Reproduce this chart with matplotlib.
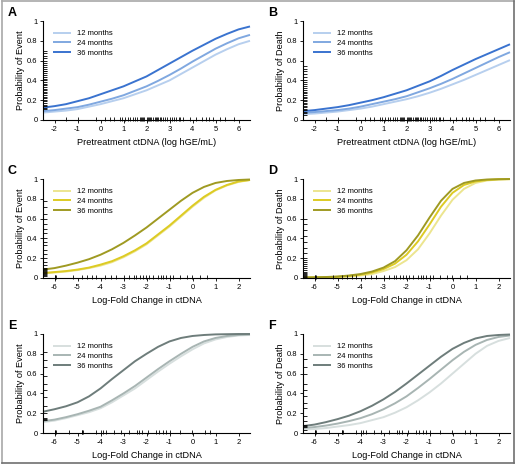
import numpy as np
import matplotlib.pyplot as plt
from matplotlib.lines import Line2D

months = ['12 months', '24 months', '36 months']

# x grids the curves were read at
x_pre = [-2.5, -2, -1.5, -1, -0.5, 0, 0.5, 1, 1.5, 2, 2.5, 3, 3.5, 4, 4.5, 5, 5.5, 6, 6.5]
x_lfc = [-6.5, -6, -5.5, -5, -4.5, -4, -3.5, -3, -2.5, -2, -1.5, -1, -0.5, 0, 0.5, 1, 1.5, 2, 2.5]

# A: probability of event vs pretreatment ctDNA
a_12 = [0.075, 0.085, 0.095, 0.11, 0.135, 0.16, 0.19, 0.22, 0.26, 0.30, 0.35, 0.40, 0.465, 0.53, 0.595, 0.66, 0.715, 0.765, 0.80]
a_24 = [0.09, 0.10, 0.115, 0.13, 0.155, 0.185, 0.215, 0.25, 0.295, 0.34, 0.395, 0.455, 0.52, 0.59, 0.655, 0.72, 0.775, 0.825, 0.86]
a_36 = [0.125, 0.14, 0.16, 0.19, 0.22, 0.26, 0.30, 0.34, 0.39, 0.44, 0.505, 0.57, 0.635, 0.70, 0.76, 0.82, 0.87, 0.915, 0.945]

# B: probability of death vs pretreatment ctDNA
b_12 = [0.06, 0.065, 0.075, 0.085, 0.10, 0.115, 0.135, 0.16, 0.185, 0.21, 0.24, 0.275, 0.315, 0.36, 0.405, 0.455, 0.505, 0.555, 0.605]
b_24 = [0.075, 0.08, 0.09, 0.10, 0.115, 0.135, 0.16, 0.185, 0.21, 0.24, 0.28, 0.32, 0.365, 0.415, 0.47, 0.525, 0.58, 0.635, 0.685]
b_36 = [0.09, 0.10, 0.115, 0.13, 0.15, 0.175, 0.20, 0.23, 0.265, 0.30, 0.345, 0.39, 0.445, 0.505, 0.56, 0.615, 0.665, 0.715, 0.765]

# C: probability of event vs log-fold change
c_12 = [0.045, 0.055, 0.065, 0.08, 0.10, 0.125, 0.16, 0.21, 0.27, 0.34, 0.43, 0.52, 0.62, 0.72, 0.81, 0.885, 0.935, 0.97, 0.99]
c_24 = [0.05, 0.06, 0.07, 0.085, 0.105, 0.135, 0.17, 0.22, 0.28, 0.35, 0.44, 0.53, 0.63, 0.73, 0.82, 0.89, 0.94, 0.975, 0.99]
c_36 = [0.085, 0.10, 0.125, 0.155, 0.19, 0.235, 0.29, 0.355, 0.43, 0.51, 0.60, 0.69, 0.78, 0.86, 0.92, 0.96, 0.98, 0.99, 0.995]

# D: probability of death vs log-fold change
d_12 = [0.003, 0.004, 0.006, 0.009, 0.015, 0.025, 0.04, 0.07, 0.11, 0.18, 0.29, 0.45, 0.63, 0.79, 0.90, 0.96, 0.985, 0.995, 0.998]
d_24 = [0.004, 0.006, 0.008, 0.012, 0.02, 0.033, 0.055, 0.09, 0.145, 0.235, 0.37, 0.54, 0.72, 0.86, 0.94, 0.975, 0.99, 0.997, 0.999]
d_36 = [0.005, 0.007, 0.01, 0.015, 0.025, 0.04, 0.065, 0.105, 0.17, 0.28, 0.43, 0.61, 0.78, 0.90, 0.96, 0.985, 0.995, 0.998, 1.0]

# E: probability of event vs log-fold change (later timepoint)
e_12 = [0.11, 0.125, 0.15, 0.18, 0.21, 0.25, 0.31, 0.38, 0.45, 0.535, 0.62, 0.70, 0.775, 0.845, 0.905, 0.945, 0.97, 0.985, 0.99]
e_24 = [0.12, 0.135, 0.16, 0.19, 0.225, 0.265, 0.33, 0.40, 0.475, 0.56, 0.645, 0.725, 0.80, 0.87, 0.925, 0.96, 0.98, 0.99, 0.995]
e_36 = [0.215, 0.24, 0.27, 0.31, 0.37, 0.45, 0.545, 0.635, 0.725, 0.80, 0.87, 0.925, 0.96, 0.98, 0.99, 0.996, 0.998, 1.0, 1.0]

# F: probability of death vs log-fold change (later timepoint)
f_12 = [0.035, 0.04, 0.05, 0.065, 0.08, 0.10, 0.13, 0.16, 0.205, 0.26, 0.33, 0.41, 0.50, 0.60, 0.70, 0.80, 0.88, 0.93, 0.96]
f_24 = [0.05, 0.06, 0.075, 0.095, 0.12, 0.15, 0.19, 0.24, 0.30, 0.37, 0.455, 0.545, 0.64, 0.735, 0.82, 0.89, 0.94, 0.97, 0.985]
f_36 = [0.07, 0.085, 0.11, 0.14, 0.175, 0.22, 0.275, 0.34, 0.415, 0.50, 0.59, 0.68, 0.77, 0.85, 0.91, 0.955, 0.98, 0.99, 0.995]

# rug marks along the x axis
rug_pre = [-1.5, -1.0, -0.2, 0.2, 0.4, 0.6, 0.85, 0.95, 1.05, 1.2, 1.3, 1.4, 1.5, 1.6, 1.7, 1.75,
           1.8, 1.85, 1.9, 2.0, 2.05, 2.1, 2.15, 2.2, 2.3, 2.35, 2.4, 2.45, 2.5, 2.6, 2.65, 2.7,
           2.8, 2.9, 3.0, 3.1, 3.2, 3.3, 3.4, 3.45, 3.6, 3.9, 4.15, 4.4, 4.6, 4.7, 4.9, 5.2, 5.4, 5.8]
rug_cd = [-6.0, -5.97, -5.94, -5.2, -4.82, -4.57, -4.35, -4.2, -3.8, -3.55, -3.33, -2.96, -2.74,
          -2.53, -2.45, -2.3, -2.16, -2.01, -1.87, -1.72, -1.5, -1.36, -1.28, -1.17, -0.99, -0.85,
          -0.55, -0.26, -0.04, 0.32, 0.61]
rug_ef = [-6.0, -5.97, -5.94, -5.37, -4.82, -4.8, -4.78, -4.2, -3.99, -3.91, -3.77, -3.4, -3.12,
          -2.75, -2.42, -2.31, -2.2, -1.95, -1.58, -1.44, -1.3, -1.15, -1.0, -0.55, -0.04, 0.54, 0.76]

# rug marks along the y axis
yrug_a = [0.11, 0.12, 0.14, 0.15, 0.17, 0.19, 0.2, 0.22, 0.23, 0.25, 0.27, 0.28, 0.3, 0.31, 0.33,
          0.35, 0.36, 0.38, 0.4, 0.41, 0.43, 0.45, 0.47, 0.49, 0.5, 0.52, 0.54, 0.56, 0.58, 0.6,
          0.63, 0.65, 0.68, 0.7]
yrug_b = [0.05, 0.07, 0.08, 0.1, 0.11, 0.13, 0.14, 0.16, 0.17, 0.19, 0.2, 0.22, 0.23, 0.25, 0.27,
          0.28, 0.3, 0.32, 0.34, 0.36, 0.38, 0.4, 0.43, 0.46, 0.49, 0.52, 0.55]
yrug_c = [0.02, 0.03, 0.04, 0.05, 0.06, 0.07, 0.08, 0.09, 0.1, 0.13, 0.16, 0.2, 0.24, 0.28, 0.33,
          0.36, 0.4, 0.45, 0.5, 0.55, 0.6, 0.65, 0.72, 0.78]
yrug_d = [0.0, 0.01, 0.02, 0.03, 0.04, 0.05, 0.06, 0.08, 0.1, 0.12, 0.14, 0.16, 0.18, 0.2, 0.25,
          0.3, 0.36, 0.42, 0.48, 0.55, 0.6]
yrug_e = [0.13, 0.14, 0.15, 0.2, 0.27, 0.36, 0.43, 0.5, 0.58, 0.67, 0.74, 0.82]
yrug_f = [0.03, 0.06, 0.07, 0.08, 0.12, 0.17, 0.25, 0.3, 0.37, 0.43, 0.5, 0.6, 0.67, 0.75]

blues = ['#b7cfee', '#80a8e0', '#3a73cf']
yellows = ['#ece58f', '#ddcb24', '#9f9a22']
greys = ['#d7dfde', '#a8b5b3', '#6e7d7b']

panels = [
    ('A', x_pre, [a_12, a_24, a_36], blues, 'Probability of Event', 'Pretreatment ctDNA (log hGE/mL)', rug_pre, yrug_a),
    ('B', x_pre, [b_12, b_24, b_36], blues, 'Probability of Death', 'Pretreatment ctDNA (log hGE/mL)', rug_pre, yrug_b),
    ('C', x_lfc, [c_12, c_24, c_36], yellows, 'Probability of Event', 'Log-Fold Change in ctDNA', rug_cd, yrug_c),
    ('D', x_lfc, [d_12, d_24, d_36], yellows, 'Probability of Death', 'Log-Fold Change in ctDNA', rug_cd, yrug_d),
    ('E', x_lfc, [e_12, e_24, e_36], greys, 'Probability of Event', 'Log-Fold Change in ctDNA', rug_ef, yrug_e),
    ('F', x_lfc, [f_12, f_24, f_36], greys, 'Probability of Death', 'Log-Fold Change in ctDNA', rug_ef, yrug_f),
]

W, H = 515, 466
fig = plt.figure(figsize=(W / 100, H / 100), dpi=100)

lefts = [43, 303]
tops = [21, 179, 334]
aw, ah = 207, 99
tick_font = ['Liberation Sans', 'DejaVu Sans']

for i, (letter, xs, curves, cols, ylab, xlab, xr, yr) in enumerate(panels):
    r, c = divmod(i, 2)
    ax = fig.add_axes([lefts[c] / W, 1 - (tops[r] + ah) / H, aw / W, ah / H])
    for ys, col, lab in zip(curves, cols, months):
        ax.plot(xs, ys, color=col, lw=1.4, label=lab, clip_on=False, solid_capstyle='butt')
    x0, x1 = xs[0], xs[-1]
    ax.set_xlim(x0, x1)
    ax.set_ylim(0, 1)
    # rugs
    ax.vlines(xr, -0.01, 0.035, color='black', lw=0.6, clip_on=False)
    dx = (x1 - x0) * 0.018
    ax.hlines(yr, x0, x0 + dx, color='black', lw=0.6, clip_on=False)

    for s in ['top', 'right']:
        ax.spines[s].set_visible(False)
    for s in ['left', 'bottom']:
        ax.spines[s].set_linewidth(0.8)
    ticks = np.arange(np.ceil(x0), np.floor(x1) + 1)
    ax.set_xticks(ticks)
    ax.set_xticklabels([f'{int(v)}' for v in ticks])
    ax.set_yticks([0, 0.2, 0.4, 0.6, 0.8, 1])
    ax.set_yticklabels(['0', '0.2', '0.4', '0.6', '0.8', '1'])
    ax.tick_params(direction='out', length=2.5, width=0.6, pad=1.5, labelsize=5.5)
    for t in ax.get_xticklabels() + ax.get_yticklabels():
        t.set_family(tick_font)

    ax.set_ylabel(ylab, fontsize=6.6, family=tick_font)
    ax.set_xlabel(xlab, fontsize=6.6, family=tick_font)
    ax.yaxis.set_label_coords(-0.085, 0.5)
    ax.xaxis.set_label_coords(0.5, -0.18)

    ax.legend(loc='upper left', bbox_to_anchor=(0.035, 0.94), frameon=False,
              prop={'family': tick_font, 'size': 5.5}, handlelength=2.3,
              handletextpad=0.8, labelspacing=0.3, borderaxespad=0)

    fig.text((lefts[c] - 35) / W, 1 - (tops[r] - 14) / H, letter, fontsize=9, fontweight='bold',
             family=tick_font, va='top', ha='left')

# grey frame around the figure
bx0, bx1 = 1.5 / W, 514 / W
by0, by1 = 1 - 462.5 / H, 1 - 1 / H
fig.add_artist(Line2D([bx0, bx1], [by1, by1], color='#a8a8a8', lw=1.2, transform=fig.transFigure))
fig.add_artist(Line2D([bx0, bx0], [by0, by1], color='#a8a8a8', lw=1.2, transform=fig.transFigure))
fig.add_artist(Line2D([bx1, bx1], [by0, by1], color='#707070', lw=1.2, transform=fig.transFigure))
fig.add_artist(Line2D([bx0, bx1], [by0, by0], color='#707070', lw=1.2, transform=fig.transFigure))

fig.savefig('out.png', dpi=100)
